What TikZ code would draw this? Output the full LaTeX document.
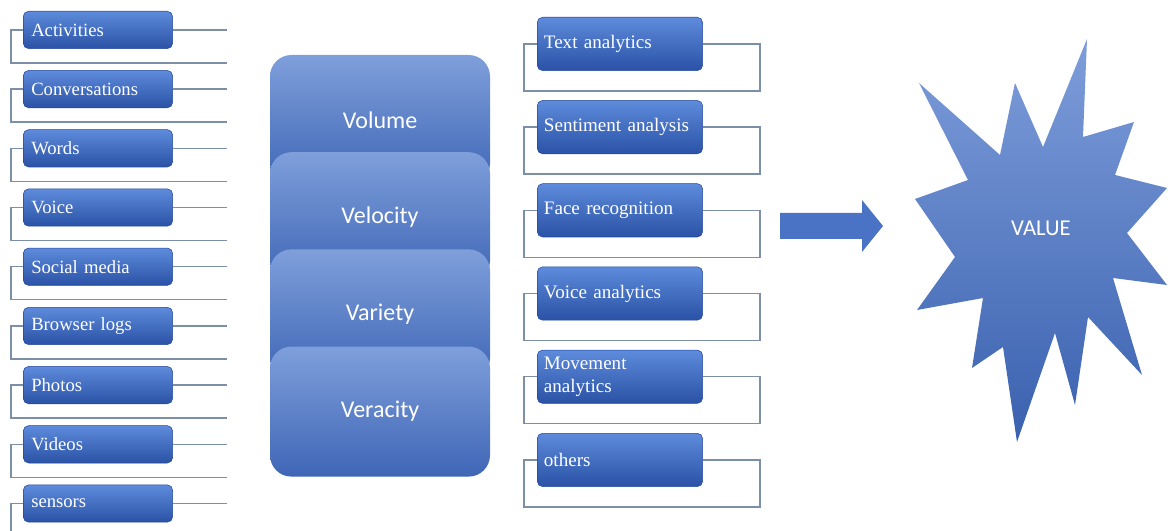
\documentclass[tikz,border=0pt]{standalone}
\usepackage{fontspec}
\setmainfont{Liberation Serif}
\newfontfamily\calib{Carlito}
\usetikzlibrary{positioning}

\definecolor{boxtop}{HTML}{5E8BDB}
\definecolor{boxmid}{HTML}{3767C9}
\definecolor{boxbot}{HTML}{2A52A6}
\definecolor{boxedge}{HTML}{24479A}
\definecolor{cardtop}{HTML}{7F9FDB}
\definecolor{cardbot}{HTML}{3F66B6}
\definecolor{framec}{HTML}{7C8FA6}
\definecolor{startop}{HTML}{7E9DDA}
\definecolor{starbot}{HTML}{3A61AF}
\definecolor{arrowc}{HTML}{4A73C5}

\begin{document}
\begin{tikzpicture}[x=0.75pt,y=-0.75pt,
src/.style={rectangle,rounded corners=4pt,draw=boxedge,top color=boxtop,middle color=boxmid,
  bottom color=boxbot,text=white,font=\fontsize{14}{17}\selectfont,align=left,
  inner xsep=6pt,inner ysep=0pt,text width=100pt,minimum height=28pt},
tool/.style={src,text width=114pt,inner xsep=5pt,minimum height=40pt,font=\fontsize{14.3}{17.5}\selectfont},
card/.style={rectangle,rounded corners=16pt,top color=cardtop,bottom color=cardbot,
  minimum width=165pt,minimum height=97.5pt,text=white,font=\calib\fontsize{18}{22}\selectfont},
frame/.style={draw=framec,line width=1.1pt}]
\useasboundingbox (0,0) rectangle (1168,531);
\clip (0,0) rectangle (1168,531);

% data sources
\node[src,anchor=north west] (act) at (23,11) {Activities};
\node[src,below=16pt of act] (conv) {Conversations};
\node[src,below=16pt of conv] (words) {Words};
\node[src,below=16pt of words] (voice) {Voice};
\node[src,below=16pt of voice] (social) {Social media};
\node[src,below=16pt of social] (browser) {Browser logs};
\node[src,below=16pt of browser] (photos) {Photos};
\node[src,below=16pt of photos] (videos) {Videos};
\node[src,below=16pt of videos] (sensors) {sensors};
\foreach \n in {act,conv,words,voice,social,browser,photos,videos,sensors}
  \draw[frame] (\n.west) -- ++(-12,0) -- ++(0,33) -- ++(216,0) (\n.east) -- ++(54,0);

% the four Vs
\node[card] (vol) at (380,120) {Volume};
\node[card,below=-25pt of vol] (velo) {Velocity};
\node[card,below=-25pt of velo] (vari) {Variety};
\node[card,below=-25pt of vari] (vera) {Veracity};

% analytics
\node[tool,anchor=north west] (text) at (537,17) {Text analytics};
\node[tool,below=22pt of text] (senti) {Sentiment analysis};
\node[tool,below=22pt of senti] (face) {Face recognition};
\node[tool,below=22pt of face] (vana) {Voice analytics};
\node[tool,below=22pt of vana] (move) {Movement\\analytics};
\node[tool,below=22pt of move] (others) {others};
\foreach \n in {text,senti,face,vana,move,others}
  \draw[frame] (\n.west) -- ++(-13,0) -- ++(0,47) -- ++(236,0) -- ++(0,-47) -- (\n.east);

% arrow and value
\fill[arrowc] (780,213) -- (862,213) -- (862,200) -- (883,226) -- (862,252)
  -- (862,239) -- (780,239) -- cycle;
\shade[top color=startop,bottom color=starbot] (1087,39) -- (1083,137) -- (1134,122)
  -- (1115,175) -- (1167,188) -- (1127,233) -- (1167,285) -- (1113,278) -- (1142,375)
  -- (1088,317) -- (1075,405) -- (1055,333) -- (1017,442) -- (1003,347) -- (972,368)
  -- (983,298) -- (917,310) -- (955,257) -- (915,199) -- (968,180) -- (919,83)
  -- (1000,155) -- (1015,83) -- (1043,147) -- cycle;
\node[text=white,font=\calib\fontsize{17}{20}\selectfont] (value) at (1041,228) {VALUE};
\end{tikzpicture}
\end{document}
